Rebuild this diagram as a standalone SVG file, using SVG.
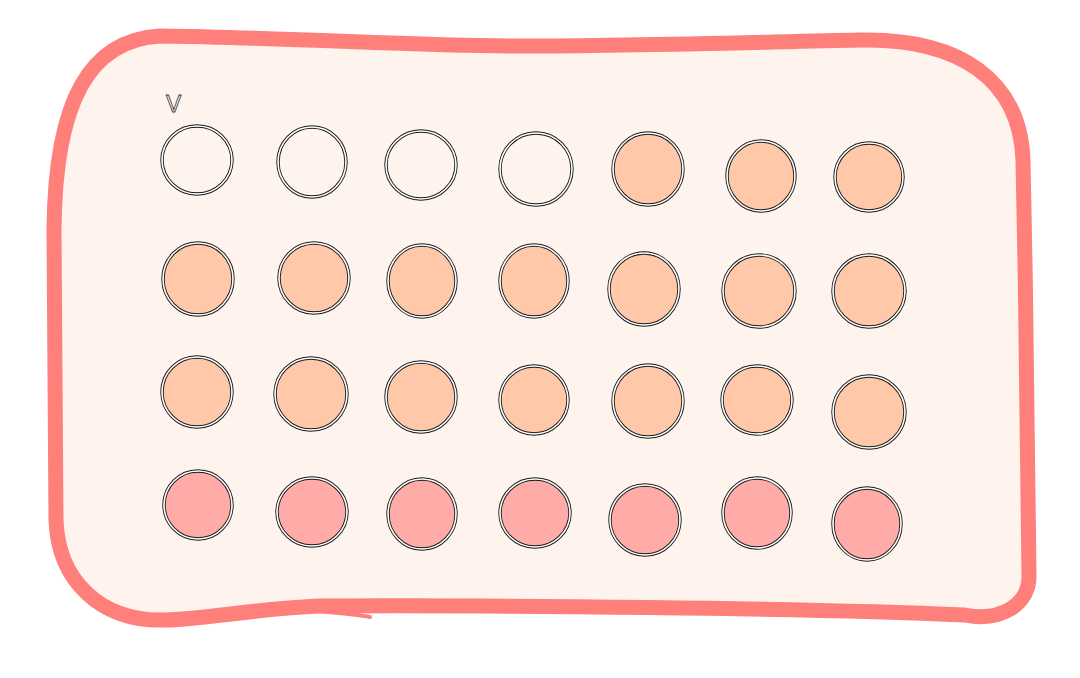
<svg xmlns="http://www.w3.org/2000/svg" width="1080" height="678" viewBox="0 0 1080 678">
<defs>
<style>
.ring{stroke:#1a1a1a;stroke-width:3.4}
.inner{fill:none;stroke:#ffffff;stroke-width:1.6}
.empty{fill:#FFF3EE}
.peach{fill:#FFC9A9}
.pink{fill:#FFABA7}
</style>
</defs>
<rect width="1080" height="678" fill="#ffffff"/>
<g id="frame">
<path d="M160,36 C300,38 420,46 520,46 C640,46 760,42 860,40 C960,38 1020,80 1023,160 C1026,300 1028,450 1029,575 C1030,605 1000,622 965,615 C800,608 500,605 320,606 C260,608 200,620 165,620 C100,622 58,580 56,520 C55,420 55,330 54,230 C55,100 90,40 160,36 Z" fill="#FFF3EE" stroke="#FF7F7B" stroke-width="15" stroke-linejoin="round"/>
<path d="M318,611 C340,613 360,615 370,617" fill="none" stroke="#FF7F7B" stroke-width="4" stroke-linecap="round"/>
</g>
<g id="label">
<text x="166" y="112" font-family="Liberation Sans, sans-serif" font-size="23" fill="#ffffff" stroke="#333333" stroke-width="0.8">V</text>
</g>
<g id="grid">
<g id="c11"><ellipse class="ring empty" cx="197" cy="160" rx="35" ry="34"/><ellipse class="inner" cx="197" cy="160" rx="35" ry="34"/></g>
<g id="c12"><ellipse class="ring empty" cx="312" cy="162" rx="34" ry="35"/><ellipse class="inner" cx="312" cy="162" rx="34" ry="35"/></g>
<g id="c13"><ellipse class="ring empty" cx="421" cy="165" rx="35" ry="34"/><ellipse class="inner" cx="421" cy="165" rx="35" ry="34"/></g>
<g id="c14"><ellipse class="ring empty" cx="536" cy="169" rx="36" ry="36"/><ellipse class="inner" cx="536" cy="169" rx="36" ry="36"/></g>
<g id="c15"><ellipse class="ring peach" cx="648" cy="169" rx="35" ry="36"/><ellipse class="inner" cx="648" cy="169" rx="35" ry="36"/></g>
<g id="c16"><ellipse class="ring peach" cx="761" cy="176" rx="34" ry="35"/><ellipse class="inner" cx="761" cy="176" rx="34" ry="35"/></g>
<g id="c17"><ellipse class="ring peach" cx="869" cy="177" rx="34" ry="34"/><ellipse class="inner" cx="869" cy="177" rx="34" ry="34"/></g>

<g id="c21"><ellipse class="ring peach" cx="198" cy="279" rx="35" ry="36"/><ellipse class="inner" cx="198" cy="279" rx="35" ry="36"/></g>
<g id="c22"><ellipse class="ring peach" cx="314" cy="278" rx="35" ry="35"/><ellipse class="inner" cx="314" cy="278" rx="35" ry="35"/></g>
<g id="c23"><ellipse class="ring peach" cx="422" cy="281" rx="34" ry="36"/><ellipse class="inner" cx="422" cy="281" rx="34" ry="36"/></g>
<g id="c24"><ellipse class="ring peach" cx="534" cy="281" rx="34" ry="36"/><ellipse class="inner" cx="534" cy="281" rx="34" ry="36"/></g>
<g id="c25"><ellipse class="ring peach" cx="644" cy="289" rx="35" ry="36"/><ellipse class="inner" cx="644" cy="289" rx="35" ry="36"/></g>
<g id="c26"><ellipse class="ring peach" cx="759" cy="291" rx="36" ry="36"/><ellipse class="inner" cx="759" cy="291" rx="36" ry="36"/></g>
<g id="c27"><ellipse class="ring peach" cx="869" cy="291" rx="36" ry="36"/><ellipse class="inner" cx="869" cy="291" rx="36" ry="36"/></g>

<g id="c31"><ellipse class="ring peach" cx="197" cy="392" rx="35" ry="35"/><ellipse class="inner" cx="197" cy="392" rx="35" ry="35"/></g>
<g id="c32"><ellipse class="ring peach" cx="311" cy="394" rx="36" ry="36"/><ellipse class="inner" cx="311" cy="394" rx="36" ry="36"/></g>
<g id="c33"><ellipse class="ring peach" cx="421" cy="397" rx="35" ry="35"/><ellipse class="inner" cx="421" cy="397" rx="35" ry="35"/></g>
<g id="c34"><ellipse class="ring peach" cx="534" cy="400" rx="34" ry="34"/><ellipse class="inner" cx="534" cy="400" rx="34" ry="34"/></g>
<g id="c35"><ellipse class="ring peach" cx="648" cy="401" rx="35" ry="36"/><ellipse class="inner" cx="648" cy="401" rx="35" ry="36"/></g>
<g id="c36"><ellipse class="ring peach" cx="757" cy="400" rx="35" ry="34"/><ellipse class="inner" cx="757" cy="400" rx="35" ry="34"/></g>
<g id="c37"><ellipse class="ring peach" cx="869" cy="412" rx="36" ry="36"/><ellipse class="inner" cx="869" cy="412" rx="36" ry="36"/></g>

<g id="c41"><ellipse class="ring pink" cx="198" cy="505" rx="34" ry="34"/><ellipse class="inner" cx="198" cy="505" rx="34" ry="34"/></g>
<g id="c42"><ellipse class="ring pink" cx="312" cy="512" rx="35" ry="34"/><ellipse class="inner" cx="312" cy="512" rx="35" ry="34"/></g>
<g id="c43"><ellipse class="ring pink" cx="422" cy="514" rx="34" ry="35"/><ellipse class="inner" cx="422" cy="514" rx="34" ry="35"/></g>
<g id="c44"><ellipse class="ring pink" cx="535" cy="513" rx="35" ry="34"/><ellipse class="inner" cx="535" cy="513" rx="35" ry="34"/></g>
<g id="c45"><ellipse class="ring pink" cx="645" cy="520" rx="35" ry="35"/><ellipse class="inner" cx="645" cy="520" rx="35" ry="35"/></g>
<g id="c46"><ellipse class="ring pink" cx="757" cy="513" rx="34" ry="35"/><ellipse class="inner" cx="757" cy="513" rx="34" ry="35"/></g>
<g id="c47"><ellipse class="ring pink" cx="867" cy="524" rx="34" ry="36"/><ellipse class="inner" cx="867" cy="524" rx="34" ry="36"/></g>
</g>
</svg>
